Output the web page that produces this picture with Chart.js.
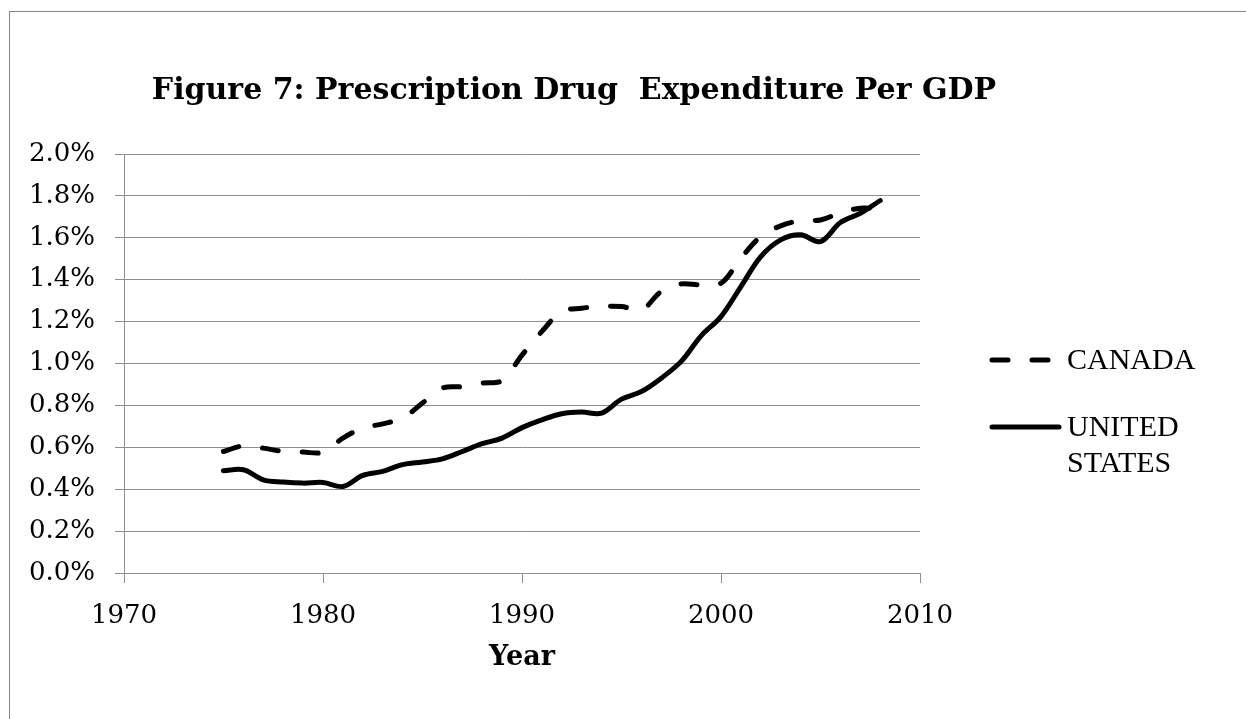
<!DOCTYPE html>
<html>
<head>
    <title>Prescription Drug Expenditure Per GDP</title>
    <script src="https://cdn.jsdelivr.net/npm/chart.js"></script>
    <style>
        body {
            margin: 0;
            background: #fff;
            width: 1246px;
            height: 719px;
            overflow: hidden;
            position: relative;
        }

        .frame {
            position: absolute;
            left: 9px;
            top: 11px;
            width: 1300px;
            height: 800px;
            border-left: 1px solid #858585;
            border-top: 1px solid #858585;
        }

        .chart-box {
            position: absolute;
            left: 9px;
            top: 11px;
            width: 1130px;
            height: 708px;
        }

        .legend {
            position: absolute;
            left: 989px;
            top: 329px;
            font-family: 'Liberation Serif', serif;
            font-size: 30px;
            color: #000;
        }

        .legend-item {
            position: absolute;
            left: 0;
            white-space: nowrap;
        }

        .legend-item svg {
            position: absolute;
            left: 0;
        }

        .legend-item span {
            position: absolute;
            left: 78px;
            line-height: 36px;
        }
    </style>
</head>
<body>
    <div class="frame"></div>

    <div class="chart-box">
        <canvas id="drugChart" width="1130" height="708"></canvas>
    </div>

    <div class="legend">
        <div class="legend-item" style="top: 0;">
            <svg width="75" height="62" style="top: 0;">
                <line x1="3" y1="31" x2="62" y2="31" stroke="#000" stroke-width="5"
                      stroke-linecap="round" stroke-dasharray="16 24"></line>
            </svg>
            <span style="top: 12px;">CANADA</span>
        </div>
        <div class="legend-item" style="top: 67px;">
            <svg width="75" height="62" style="top: 0;">
                <line x1="3" y1="31" x2="70" y2="31" stroke="#000" stroke-width="5"
                      stroke-linecap="round"></line>
            </svg>
            <span style="top: 12px;">UNITED<br>STATES</span>
        </div>
    </div>

    <script>
        // values, percent of GDP
        const years = [1975, 1976, 1977, 1978, 1979, 1980, 1981, 1982, 1983, 1984,
                       1985, 1986, 1987, 1988, 1989, 1990, 1991, 1992, 1993, 1994,
                       1995, 1996, 1997, 1998, 1999, 2000, 2001, 2002, 2003, 2004,
                       2005, 2006, 2007, 2008];

        const canada = [0.58, 0.607, 0.596, 0.58, 0.577, 0.577, 0.644, 0.692, 0.712, 0.74,
                        0.811, 0.883, 0.89, 0.906, 0.919, 1.04, 1.153, 1.248, 1.264, 1.272,
                        1.272, 1.256, 1.344, 1.38, 1.375, 1.383, 1.503, 1.606, 1.657, 1.682,
                        1.685, 1.72, 1.741, 1.738];

        const unitedStates = [0.488, 0.493, 0.445, 0.434, 0.429, 0.432, 0.413, 0.466, 0.485, 0.517,
                              0.53, 0.545, 0.58, 0.617, 0.644, 0.694, 0.731, 0.76, 0.768, 0.763,
                              0.83, 0.866, 0.93, 1.01, 1.132, 1.224, 1.367, 1.51, 1.59, 1.614,
                              1.582, 1.673, 1.717, 1.778];

        const yearTicks = [1970, 1980, 1990, 2000, 2010];

        const toPoints = vals => vals.map((v, i) => ({ x: years[i], y: v }));

        const axisGray = '#8f8f8f';
        const tickFont = { family: "'DejaVu Serif', serif", size: 26 };

        const ctx = document.getElementById('drugChart').getContext('2d');
        new Chart(ctx, {
            type: 'line',
            data: {
                datasets: [{
                    label: 'CANADA',
                    data: toPoints(canada),
                    borderColor: '#000',
                    borderWidth: 5,
                    borderDash: [16, 24],
                    borderCapStyle: 'round',
                    pointRadius: 0,
                    tension: 0.35,
                    fill: false
                }, {
                    label: 'UNITED STATES',
                    data: toPoints(unitedStates),
                    borderColor: '#000',
                    borderWidth: 5,
                    borderCapStyle: 'round',
                    borderJoinStyle: 'round',
                    pointRadius: 0,
                    tension: 0.35,
                    fill: false
                }]
            },
            options: {
                responsive: false,
                animation: false,
                events: [],
                layout: {
                    padding: 0
                },
                plugins: {
                    legend: { display: false },
                    tooltip: { enabled: false },
                    title: {
                        display: true,
                        text: 'Figure 7: Prescription Drug  Expenditure Per GDP',
                        color: '#000',
                        font: { family: "'DejaVu Serif', serif", size: 30, weight: 'bold', lineHeight: 1.2 },
                        padding: { top: 62, bottom: 45 }
                    }
                },
                scales: {
                    x: {
                        type: 'linear',
                        min: 1970,
                        max: 2010,
                        afterBuildTicks: scale => {
                            scale.ticks = yearTicks.map(v => ({ value: v }));
                        },
                        afterFit: scale => { scale.height = 146; },
                        grid: {
                            drawOnChartArea: false,
                            drawTicks: true,
                            tickLength: 10,
                            color: axisGray
                        },
                        border: { display: true, color: axisGray, width: 1 },
                        ticks: {
                            color: '#000',
                            font: tickFont,
                            padding: 18,
                            maxRotation: 0,
                            callback: v => String(v)
                        },
                        title: {
                            display: true,
                            text: 'Year',
                            color: '#000',
                            font: { family: "'DejaVu Serif', serif", size: 27, weight: 'bold', lineHeight: 1.2 },
                            padding: { top: 0, bottom: 45 }
                        }
                    },
                    y: {
                        min: 0,
                        max: 2.0,
                        afterFit: scale => { scale.width = 115; },
                        grid: {
                            color: axisGray,
                            lineWidth: 1,
                            drawTicks: true,
                            tickLength: 9
                        },
                        border: { display: true, color: axisGray, width: 1 },
                        ticks: {
                            stepSize: 0.2,
                            color: '#000',
                            font: tickFont,
                            padding: 20,
                            callback: v => v.toFixed(1) + '%'
                        }
                    },
                    // empty right-hand axis that only reserves the legend's space
                    spacer: {
                        position: 'right',
                        display: true,
                        afterFit: scale => { scale.width = 219; },
                        grid: { display: false },
                        border: { display: false },
                        ticks: { display: false }
                    }
                }
            }
        });
    </script>
</body>
</html>
